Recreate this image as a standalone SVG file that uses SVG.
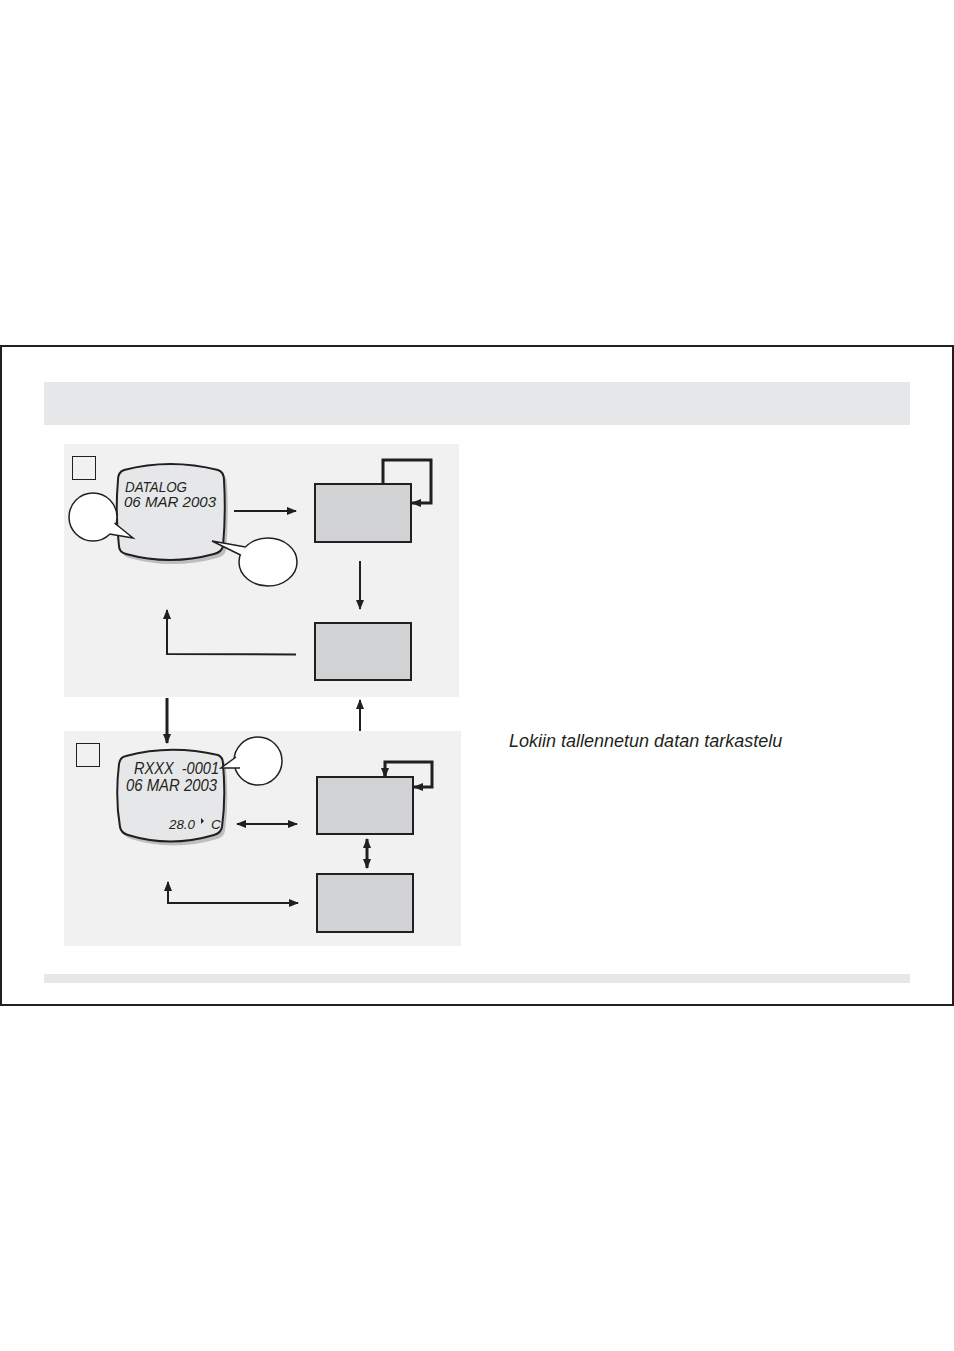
<svg xmlns="http://www.w3.org/2000/svg" width="954" height="1351" viewBox="0 0 954 1351">
<defs>
<marker id="ah" markerUnits="userSpaceOnUse" markerWidth="10" markerHeight="8" refX="9" refY="4" orient="auto">
<path d="M0,0 L10,4 L0,8 Z" fill="#231f20"/>
</marker>
<marker id="ahs" markerUnits="userSpaceOnUse" markerWidth="10" markerHeight="8" refX="1" refY="4" orient="auto">
<path d="M10,0 L0,4 L10,8 Z" fill="#231f20"/>
</marker>
</defs>
<style>
.panel{fill:#f1f1f1}
.band{fill:#e6e7e8}
.box{fill:#d1d2d4;stroke:#231f20;stroke-width:2}
.sq{fill:none;stroke:#231f20;stroke-width:1}
.lcd{fill:#e6e7e8;stroke:#231f20;stroke-width:2}
.shadow{fill:#bcbec0}
.bw{fill:#ffffff}
.bs{fill:none;stroke:#231f20;stroke-width:1.5}
.ln{fill:none;stroke:#231f20;stroke-width:2}
.lnb{fill:none;stroke:#231f20;stroke-width:3}
.t{font-family:"Liberation Sans",Arial,sans-serif;font-style:italic;fill:#231f20}
</style>
<rect x="1" y="346" width="952" height="659" fill="#ffffff" stroke="#231f20" stroke-width="2"/>
<rect class="band" x="44" y="382" width="866" height="43"/>
<rect class="band" x="44" y="974" width="866" height="9"/>
<rect class="panel" x="64" y="444" width="395" height="253"/>
<rect class="panel" x="64" y="731" width="397" height="215"/>

<g id="square1"><rect class="sq" x="72.5" y="456.5" width="23" height="23"/></g>
<g id="square2"><rect class="sq" x="76.5" y="743.5" width="23" height="23"/></g>

<g id="lcd1">
<path class="shadow" transform="translate(3,4)" d="M124,470 Q170,458 218,470 Q224,472 224,480 Q226,514 223,546 Q222,552 214,554 Q170,566 126,554 Q119,552 119,546 Q115,514 118,480 Q118,472 124,470 Z"/>
<path class="lcd" d="M124,470 Q170,458 218,470 Q224,472 224,480 Q226,514 223,546 Q222,552 214,554 Q170,566 126,554 Q119,552 119,546 Q115,514 118,480 Q118,472 124,470 Z"/>
<text class="t" x="125" y="492" font-size="15.5" textLength="62" lengthAdjust="spacingAndGlyphs">DATALOG</text>
<text class="t" x="124" y="507" font-size="15.5" textLength="92" lengthAdjust="spacingAndGlyphs">06 MAR 2003</text>
</g>
<g id="bubble1">
<ellipse class="bw" cx="93" cy="517" rx="24" ry="24"/>
<ellipse class="bs" cx="93" cy="517" rx="24" ry="24"/>
<path class="bw" d="M114,523 L133,538 L109,534 Z"/>
<path class="bs" d="M114.5,523 L133,538 L109.5,534"/>
</g>
<g id="bubble2">
<ellipse class="bw" cx="268" cy="562" rx="29" ry="24"/>
<ellipse class="bs" cx="268" cy="562" rx="29" ry="24"/>
<path class="bw" d="M246,547 L212,541 L241,555 Z"/>
<path class="bs" d="M245.5,547 L212,541 L240.5,555"/>
</g>

<g id="boxA"><rect class="box" x="315" y="484" width="96" height="58"/></g>
<g id="boxB"><rect class="box" x="315" y="623" width="96" height="57"/></g>

<g id="lcd2">
<path class="shadow" transform="translate(3,4)" d="M126,756 Q170,744 218,755 Q223,757 223,764 Q226,798 222,827 Q221,833 214,835 Q170,848 128,835 Q121,833 120,827 Q115,798 119,764 Q120,757 126,756 Z"/>
<path class="lcd" d="M126,756 Q170,744 218,755 Q223,757 223,764 Q226,798 222,827 Q221,833 214,835 Q170,848 128,835 Q121,833 120,827 Q115,798 119,764 Q120,757 126,756 Z"/>
<text class="t" x="134" y="774" font-size="16.5" textLength="85" lengthAdjust="spacingAndGlyphs" xml:space="preserve">RXXX  -0001</text>
<text class="t" x="126" y="791" font-size="16.5" textLength="91" lengthAdjust="spacingAndGlyphs">06 MAR 2003</text>
<text class="t" x="169" y="829" font-size="13.5" textLength="26" lengthAdjust="spacingAndGlyphs">28.0</text>
<path d="M201,818 L204,821 L201,824 Z" fill="#231f20"/>
<text class="t" x="211" y="829" font-size="13.5">C</text>
</g>
<g id="bubble3">
<ellipse class="bw" cx="258" cy="761" rx="24" ry="24"/>
<ellipse class="bs" cx="258" cy="761" rx="24" ry="24"/>
<path class="bw" d="M236,757 L221,768 L240,768 Z"/>
<path class="bs" d="M236,757 L221,768 L240,768"/>
</g>

<g id="boxC"><rect class="box" x="317" y="777" width="96" height="57"/></g>
<g id="boxD"><rect class="box" x="317" y="874" width="96" height="58"/></g>

<g id="connectors">
<line class="ln" x1="234" y1="511" x2="296" y2="511" marker-end="url(#ah)"/>
<polyline class="lnb" points="383,484 383,460 431,460 431,503 412,503" marker-end="url(#ah)"/>
<line class="ln" x1="360" y1="561" x2="360" y2="609" marker-end="url(#ah)"/>
<polyline class="ln" points="296,654.5 167,654 167,610" marker-end="url(#ah)"/>
<line class="lnb" x1="167" y1="698" x2="167" y2="743" marker-end="url(#ah)"/>
<line class="ln" x1="360" y1="731" x2="360" y2="700" marker-end="url(#ah)"/>
<line class="ln" x1="237" y1="824" x2="297" y2="824" marker-start="url(#ahs)" marker-end="url(#ah)"/>
<polyline class="lnb" points="385,777 385,762 432,762 432,787 414,787" marker-end="url(#ah)"/>
<polyline class="lnb" points="385,768 385,777" marker-end="url(#ah)"/>
<line class="lnb" x1="367" y1="839" x2="367" y2="868" marker-start="url(#ahs)" marker-end="url(#ah)"/>
<polyline class="ln" points="168,885 168,903 298,903" marker-end="url(#ah)"/>
<polyline class="ln" points="168,902 168,882" marker-end="url(#ah)"/>
</g>

<text x="509" y="747" font-family="Liberation Sans, Arial, sans-serif" font-style="italic" font-size="18" fill="#231f20">Lokiin tallennetun datan tarkastelu</text>
</svg>
